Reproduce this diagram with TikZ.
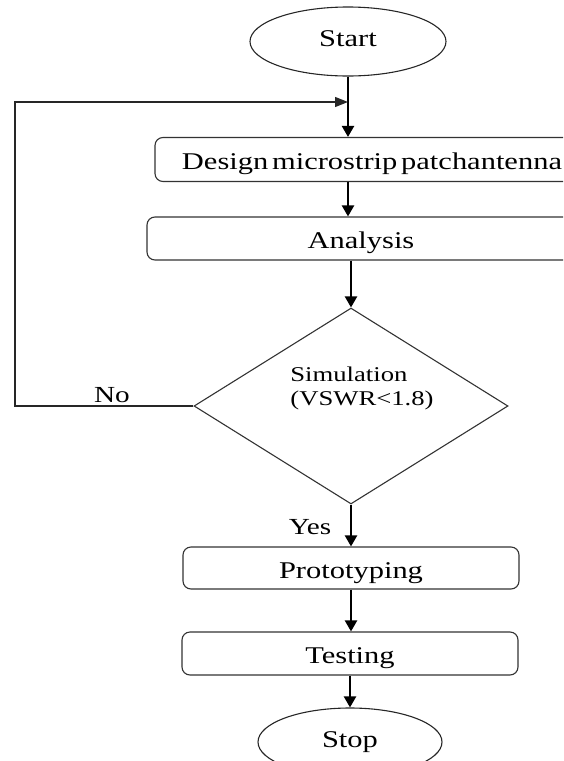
\documentclass[tikz,border=0pt]{standalone}
\usepackage{fontspec}
\setmainfont{Liberation Serif}[FakeStretch=1.27, WordSpace=0.5]
\usetikzlibrary{shapes.geometric,arrows.meta}
\begin{document}
\begin{tikzpicture}[x=1pt,y=-1pt,
  procbox/.style={draw=black!80, line width=1.1pt, rounded corners=8pt, minimum height=44pt,
    inner sep=0pt, text height=20pt, text depth=0pt, font=\fontsize{24}{28}\selectfont},
  terminal/.style={draw=black!85, line width=1.1pt, ellipse, inner sep=0pt,
    text height=10pt, text depth=0pt, font=\fontsize{24}{28}\selectfont},
  decision/.style={draw=black!80, line width=1.1pt, diamond, inner sep=0pt},
  flowarrow/.style={line width=2.2pt, -{Triangle[length=11pt,width=12pt]}},
  loopline/.style={line width=1.4pt, draw=black!85, -{Triangle[length=13pt,width=10pt]}},
  lbl/.style={font=\fontsize{23}{27}\selectfont, inner sep=0pt}]
\useasboundingbox (0,0) rectangle (563,761);
\clip (0,0) rectangle (563,761);

\node[terminal, minimum width=196pt, minimum height=69pt] (start) at (348,41.5) {Start};
\node[procbox, minimum width=434pt] (design) at (372,159.5) {Design microstrip patchantenna};
\node[procbox, minimum width=428pt, minimum height=43pt] (analysis) at (361,238.5) {Analysis\hspace{28pt}};
\node[decision, minimum width=314pt, minimum height=196pt] (sim) at (351,406) {};
\node[font=\fontsize{21}{24}\selectfont, align=left, inner sep=0pt] (simtext) at (362,388) {Simulation\\(VSWR<1.8)};
\node[procbox, minimum width=336pt, minimum height=42pt] (proto) at (351,568) {Prototyping};
\node[procbox, minimum width=336pt, minimum height=43pt] (test) at (350,653.5) {Testing};
\node[terminal, minimum width=184pt, minimum height=68pt] (stop) at (350,742) {Stop};

\node[lbl, anchor=base] (no) at (112,402) {No};
\node[lbl, anchor=base] (yes) at (310,534) {Yes};

\coordinate (lc) at (15,102);
\coordinate (fb) at (348,102);

\draw[flowarrow] (start.south) -- (start.south |- design.north);
\draw[flowarrow] (design.south -| start.south) -- (analysis.north -| start.south);
\draw[flowarrow] (analysis.south -| sim.north) -- (sim.north);
\draw[loopline] (sim.west) -| (lc) -- (fb);
\draw[flowarrow] (sim.south) -- (proto.north);
\draw[flowarrow] (proto.south) -- (proto.south |- test.north);
\draw[flowarrow] (test.south) -- (test.south |- stop.north);
\end{tikzpicture}
\end{document}
